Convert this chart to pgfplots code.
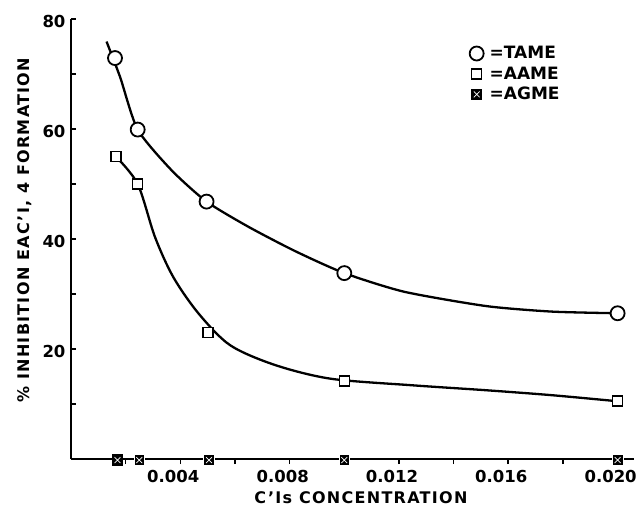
\documentclass[border=0pt]{standalone}
\usepackage{fontspec}
\setmainfont{DejaVu Sans Bold}
\usepackage{pgfplots}
\pgfplotsset{compat=1.18}
\pgfdeclareplotmark{sqx}{%
  \pgfpathrectangle{\pgfpoint{-\pgfplotmarksize}{-\pgfplotmarksize}}{\pgfpoint{2\pgfplotmarksize}{2\pgfplotmarksize}}%
  \pgfusepathqfillstroke
  \pgfsetstrokecolor{white}\pgfsetlinewidth{0.7pt}%
  \pgfpathmoveto{\pgfpoint{-0.55\pgfplotmarksize}{-0.55\pgfplotmarksize}}\pgfpathlineto{\pgfpoint{0.55\pgfplotmarksize}{0.55\pgfplotmarksize}}%
  \pgfpathmoveto{\pgfpoint{-0.55\pgfplotmarksize}{0.55\pgfplotmarksize}}\pgfpathlineto{\pgfpoint{0.55\pgfplotmarksize}{-0.55\pgfplotmarksize}}%
  \pgfusepathqstroke}
\begin{document}
\begin{tikzpicture}[x=1pt,y=1pt]
\useasboundingbox (-71,-48) rectangle (568,459);
\begin{axis}[
  at={(0,0)}, anchor=south west, scale only axis, width=563pt, height=440pt,
  xmin=0, xmax=0.0206, ymin=0, ymax=80,
  axis lines*=left, axis line style={line width=2.6pt},
  clip=false,
  scaled x ticks=false,
  /pgf/number format/assume math mode=true,
  xtick={0.004,0.008,0.012,0.016,0.020},
  xticklabels={0.004,0.008,0.012,0.016,0.020},
  minor xtick={0.002,0.006,0.010,0.014,0.018},
  ytick={20,40,60,80}, yticklabels={20,40,60,80},
  minor ytick={10,30,50,70},
  tick align=inside,
  major tick length=5pt, minor tick length=5pt,
  tick style={line width=1.6pt, black},
  xtick style={yshift=-5pt},
  every tick label/.append style={font=\fontsize{16.5}{20}\selectfont},
  xticklabel style={yshift=-8pt, xshift=-7pt},
  yticklabel style={xshift=-2pt, yshift=-2pt},
  xlabel={C'Is CONCENTRATION},
  ylabel={\% INHIBITION EAC'I, 4 FORMATION},
  label style={font=\fontsize{16}{19}\selectfont\addfontfeature{LetterSpace=8}},
  xlabel style={at={(axis description cs:0.515,-0.089)}, anchor=center},
  ylabel style={at={(axis description cs:-0.082,0.52)}, anchor=center},
  legend style={draw=none, fill=none, at={(axis cs:0.01458,75.3)}, anchor=north west,
    font=\fontsize{17}{19}\selectfont, row sep=3.5pt, inner sep=0pt,
    nodes={inner sep=1.5pt},
    /tikz/every odd column/.style={column sep=4.5pt}},
  legend cell align=left,
  legend image code/.code={\draw[#1] plot coordinates {(0pt,0pt)};},
]
% fitted curves
\addplot[forget plot, line width=2.3pt, smooth, tension=0.4] coordinates {
 (0.0013,75.9) (0.0018,69.4) (0.00244,59.9) (0.00368,52.5) (0.00496,46.8)
 (0.0065,42.2) (0.0082,37.8) (0.010,33.8) (0.0122,30.4) (0.0152,27.8) (0.0176,26.8) (0.020,26.5)};
\addplot[forget plot, line width=2.3pt, smooth, tension=0.5] coordinates {
 (0.00164,55) (0.00244,50) (0.00307,40.4) (0.00374,33.1) (0.00466,26.5) (0.00582,20.7)
 (0.00746,17.1) (0.0095,14.6) (0.0125,13.4) (0.0152,12.5) (0.0176,11.6) (0.020,10.5)};
\addplot[forget plot, line width=2pt] coordinates {(0.0017,0) (0.020,0)};
% data points
\addplot[only marks, mark=*, mark size=7pt, mark options={fill=white, line width=1.8pt}] coordinates {
 (0.00161,72.9) (0.00244,59.9) (0.00496,46.8) (0.010,33.8) (0.020,26.5)};
\addlegendentry{=TAME}
\addplot[only marks, mark=square*, mark size=5pt, mark options={fill=white, line width=1.6pt}] coordinates {
 (0.00164,55.0) (0.00244,50) (0.00502,23.0) (0.010,14.2) (0.020,10.5)};
\addlegendentry{=AAME}
\addplot[only marks, mark=sqx, mark size=5.3pt, mark options={fill=black, line width=1pt}] coordinates {
 (0.0017,-0.2) (0.0025,-0.2) (0.00505,-0.2) (0.010,-0.2) (0.020,-0.2)};
\addlegendentry{=AGME}
\end{axis}
\end{tikzpicture}
\end{document}
